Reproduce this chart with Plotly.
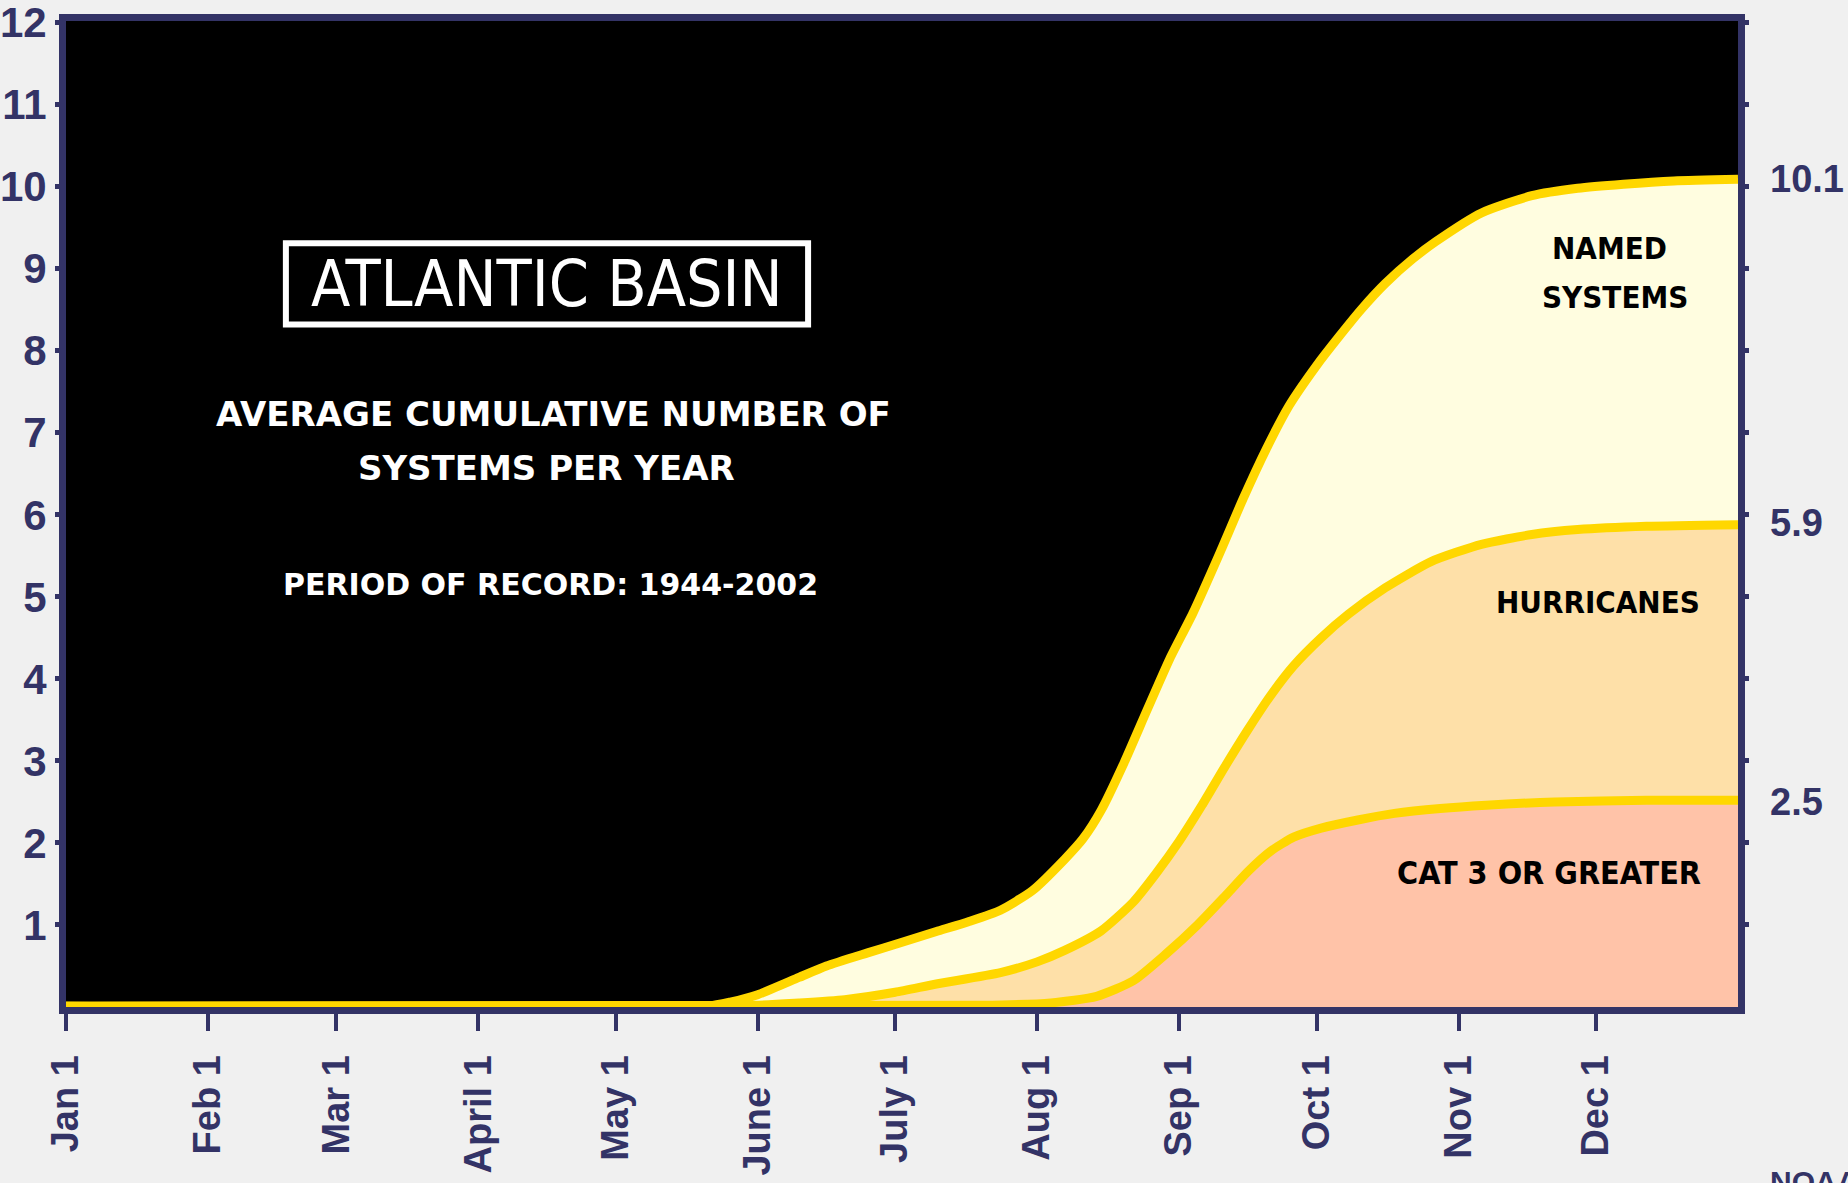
import plotly.graph_objects as go

# ---------------- data ----------------
month_tick_days = [0, 31, 59, 90, 120, 151, 181, 212, 243, 273, 304, 334]
month_tick_labels = ["Jan 1", "Feb 1", "Mar 1", "April 1", "May 1", "June 1",
                     "July 1", "Aug 1", "Sep 1", "Oct 1", "Nov 1", "Dec 1"]
y_tick_values = [1, 2, 3, 4, 5, 6, 7, 8, 9, 10, 11, 12]
end_values = [10.1, 5.9, 2.5]

named_days = [0, 140, 145, 151, 160, 166, 175, 182, 190, 197, 204, 211, 218, 222,
              226, 231, 236, 241, 246, 252, 257, 262, 267, 273, 278, 283, 288, 294,
              299, 309, 320, 330, 340, 351, 365]
named_vals = [0.01, 0.01, 0.06, 0.15, 0.36, 0.5, 0.66, 0.78, 0.92, 1.04, 1.18, 1.42,
              1.8, 2.05, 2.4, 2.98, 3.62, 4.25, 4.8, 5.55, 6.2, 6.8, 7.33, 7.82,
              8.18, 8.52, 8.82, 9.12, 9.33, 9.68, 9.89, 9.98, 10.03, 10.07, 10.09]

hurr_days = [0, 150, 160, 170, 181, 190, 204, 212, 218, 226, 233, 238, 243, 248,
             253, 258, 263, 268, 274, 280, 288, 298, 309, 320, 330, 345, 365]
hurr_vals = [0.01, 0.02, 0.05, 0.09, 0.18, 0.28, 0.42, 0.55, 0.69, 0.93, 1.28, 1.63,
             2.02, 2.46, 2.93, 3.38, 3.8, 4.16, 4.5, 4.79, 5.11, 5.43, 5.64, 5.76,
             5.82, 5.86, 5.88]

cat3_days = [0, 200, 215, 225, 233, 240, 247, 253, 258, 263, 268, 274, 282, 290,
             300, 310, 325, 345, 365]
cat3_vals = [0.01, 0.02, 0.05, 0.13, 0.32, 0.64, 1.0, 1.35, 1.65, 1.9, 2.07, 2.18,
             2.28, 2.36, 2.42, 2.46, 2.5, 2.52, 2.52]

# ---------------- style ----------------
navy = "#333366"
gold = "#FFD700"
named_fill = "#FFFDE0"
hurr_fill = "#FEE0A8"
cat3_fill = "#FFC3A8"
page_bg = "#F0F0F0"
tick_family = "Liberation Sans, Arial, sans-serif"
cond_family = "DejaVu Sans Condensed, DejaVu Sans, sans-serif"
white_family = "DejaVu Sans, sans-serif"

line_style = dict(color=gold, width=9, shape="spline", smoothing=0.6)

fig = go.Figure()
fig.add_trace(go.Scatter(x=cat3_days, y=cat3_vals, mode="lines", line=line_style,
                         fill="tozeroy", fillcolor=cat3_fill, hoverinfo="skip",
                         showlegend=False))
fig.add_trace(go.Scatter(x=hurr_days, y=hurr_vals, mode="lines", line=line_style,
                         fill="tonexty", fillcolor=hurr_fill, hoverinfo="skip",
                         showlegend=False))
fig.add_trace(go.Scatter(x=named_days, y=named_vals, mode="lines", line=line_style,
                         fill="tonexty", fillcolor=named_fill, hoverinfo="skip",
                         showlegend=False))

fig.update_layout(
    template="none",
    width=1848, height=1183,
    margin=dict(l=66, r=110, t=21, b=176, autoexpand=False),
    paper_bgcolor=page_bg, plot_bgcolor="black",
    showlegend=False,
)

fig.update_xaxes(
    range=[0, 365], tickmode="array", tickvals=month_tick_days,
    ticktext=month_tick_labels, tickangle=-90,
    ticks="outside", ticklen=17, tickwidth=4, tickcolor=navy,
    showline=True, linecolor=navy, linewidth=7, mirror=True,
    showgrid=False, zeroline=False, ticklabelstandoff=9,
    ticklabeloverflow="allow",
    tickfont=dict(family=tick_family, size=38, color=navy, weight="bold"),
)
fig.update_yaxes(
    range=[0, 12.02], tickmode="array", tickvals=y_tick_values,
    ticks="outside", ticklen=4, tickwidth=5, tickcolor=navy,
    showline=True, linecolor=navy, linewidth=7, mirror="ticks",
    showgrid=False, zeroline=False, ticklabeloverflow="allow",
    tickfont=dict(family=tick_family, size=42, color=navy, weight="bold"),
)

annotations = []


def add_text(text, x, y, size, color, family, weight="normal"):
    annotations.append(dict(text=text, x=x, y=y, xref="x", yref="y", showarrow=False,
                            font=dict(family=family, size=size, color=color,
                                      weight=weight),
                            xanchor="center", yanchor="middle"))


# title block
add_text("ATLANTIC BASIN", 105.0, 8.81, 64, "white", cond_family)
add_text("AVERAGE CUMULATIVE NUMBER OF", 106.5, 7.23, 34, "white", white_family, "bold")
add_text("SYSTEMS PER YEAR", 104.8, 6.57, 34, "white", white_family, "bold")
add_text("PERIOD OF RECORD: 1944-2002", 105.7, 5.15, 30, "white", white_family, "bold")

# area labels
add_text("NAMED", 337.0, 9.25, 31, "black", cond_family, "bold")
add_text("SYSTEMS", 338.1, 8.65, 31, "black", cond_family, "bold")
add_text("HURRICANES", 334.4, 4.94, 31, "black", cond_family, "bold")
add_text("CAT 3 OR GREATER", 323.7, 1.63, 32, "black", cond_family, "bold")

# right-hand end values
for v in end_values:
    annotations.append(dict(text=f"{v:.1f}", x=1.018, y=v, xref="paper", yref="y",
                            showarrow=False, xanchor="left", yanchor="middle",
                            font=dict(family=tick_family, size=38, color=navy,
                                      weight="bold")))

annotations.append(dict(text="NOAA", x=1.018, y=-0.158, xref="paper", yref="paper",
                        showarrow=False, xanchor="left", yanchor="top",
                        font=dict(family=tick_family, size=30, color=navy,
                                  weight="bold")))

fig.update_layout(annotations=annotations)

fig.add_shape(type="rect", xref="x", yref="y", x0=48.0, x1=162.0, y0=8.32, y1=9.31,
              line=dict(color="white", width=6), fillcolor="rgba(0,0,0,0)",
              layer="above")

page_fix = ("document.documentElement.style.margin='0';"
            "document.body.style.margin='0';"
            "document.body.style.background='" + page_bg + "';"
            "document.body.style.overflow='hidden';")

fig.write_html("out.html", post_script=page_fix,
               config={"displayModeBar": False, "staticPlot": True})
